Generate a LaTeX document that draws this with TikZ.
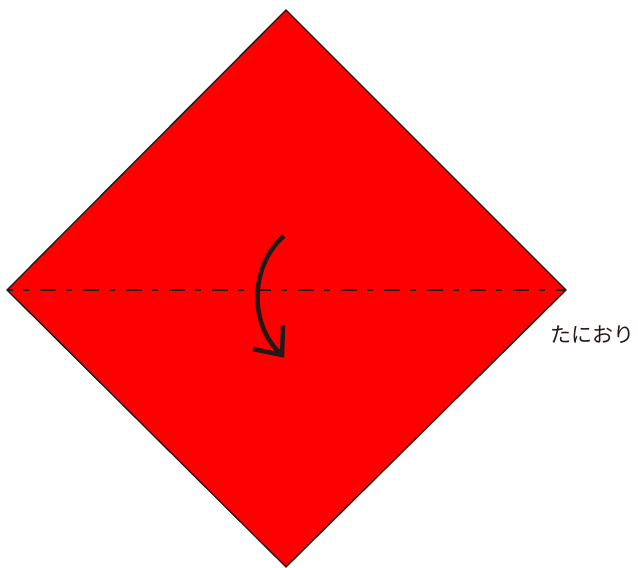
\documentclass[tikz,border=0pt]{standalone}
\usepackage{fontspec}
\newfontfamily\jpfont{Noto Sans CJK JP}
\usetikzlibrary{calc}
\definecolor{ori-red}{HTML}{FF0000}
\definecolor{ori-ink}{HTML}{231815}

\tikzset{
  paper/.style={fill=ori-red, draw=ori-ink, line width=1.3pt, line join=miter},
  valley/.style={draw=ori-ink, line width=1.3pt, dash pattern=on 16pt off 10pt on 6pt off 11pt, dash phase=10pt},
  foldarrow/.style={draw=ori-ink, line width=4.5pt},
}

\begin{document}
\begin{tikzpicture}[x=1pt, y=-1pt]
    \useasboundingbox (0,0) rectangle (638,568);
    % square paper turned on its corner
    \coordinate (top) at (286,10);
    \coordinate (right) at (566,290);
    \coordinate (bottom) at (286,567);
    \coordinate (left) at (7,290);
    \draw[paper] (top) -- (right) -- (bottom) -- (left) -- cycle;
    \draw[valley] (left) -- (right);
    % fold arrow
    \coordinate (arrS) at (284,236);
    \coordinate (arrE) at (282,355);
    \coordinate (armU) at (283,325);
    \coordinate (armL) at (253,349);
    \draw[foldarrow] (arrS) .. controls (250,265) and (248,325) .. (arrE);
    \draw[foldarrow, line join=miter] (armU) -- (arrE) -- (armL);
    \node[font=\jpfont\fontsize{21}{25}\selectfont, text=ori-ink] (valleyLabel) at (592.5,335) {たにおり};
\end{tikzpicture}
\end{document}
